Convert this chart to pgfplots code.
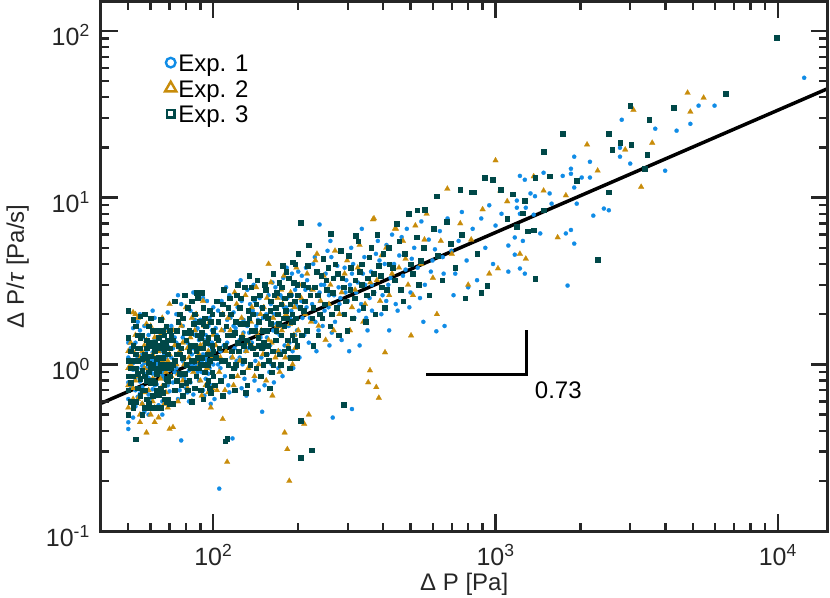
\documentclass[border=0pt]{standalone}
\usepackage{pgfplots}
\pgfplotsset{compat=1.18}
\usepackage{fontspec}
\setmainfont{Liberation Sans}
\definecolor{cA}{RGB}{16,140,230}
\definecolor{cB}{RGB}{200,140,10}
\definecolor{cC}{RGB}{0,72,72}
\definecolor{axc}{RGB}{38,38,38}
\pgfplotsset{mylegimg/.style={legend image code/.code={\draw[mark repeat=2,mark phase=2,##1] plot coordinates {(0pt,0pt)(12pt,0pt)(38pt,0pt)};}}}
\begin{document}
\begin{tikzpicture}
\path (-101pt,-66pt) rectangle (729.5pt,531.5pt);
\begin{axis}[
  at={(0,0)}, anchor=south west,
  scale only axis, width=727pt, height=530pt,
  xmode=log, ymode=log,
  xmin=40, xmax=15000, ymin=0.1, ymax=150,
  xtick={100,1000,10000},
  xticklabels={10\textsuperscript{2},10\textsuperscript{3},10\textsuperscript{4}},
  ytick={0.1,1,10,100},
  yticklabels={10\textsuperscript{-1},10\textsuperscript{0},10\textsuperscript{1},10\textsuperscript{2}},
  minor xtick={50,60,70,80,90,200,300,400,500,600,700,800,900,2000,3000,4000,5000,6000,7000,8000,9000},
  minor ytick={0.2,0.3,0.4,0.5,0.6,0.7,0.8,0.9,2,3,4,5,6,7,8,9,20,30,40,50,60,70,80,90},
  tick align=inside,
  major tick length=17pt, minor tick length=8.5pt,
  tick style={line width=2.4pt, color=axc},
  axis line style={line width=2.9pt, color=axc},
  axis on top=true,
  ticklabel style={font=\fontsize{25}{30}\selectfont, color=axc, inner sep=0pt},
  xticklabel style={anchor=base, yshift=-34pt},
  yticklabel style={anchor=base east, xshift=-11pt, yshift=-15pt},
  xlabel={Δ P [Pa]},
  ylabel={Δ P/\textit{τ} [Pa/s]},
  label style={font=\fontsize{24}{29}\selectfont, color=axc, inner sep=0pt},
  xlabel style={at={(axis description cs:0.5,-0.1113)}, anchor=base},
  ylabel style={at={(axis description cs:-0.106,0.5)}, anchor=base},
  legend style={draw=none, fill=none, font=\fontsize{24}{29}\selectfont,
    at={(axis description cs:0.088,0.909)}, anchor=north west,
    inner sep=0pt, row sep=0pt,
    cells={anchor=west, text height=20pt, text depth=7pt, inner ysep=5.25pt}},
]
\addplot[only marks, mark=*, mark size=2.1pt, color=cA, mark options={line width=0.2pt}, forget plot] table[row sep=\\] {
x y\\
50 0.62\\51 0.85\\50 1.1\\52 0.48\\53 1.35\\51 0.74\\54 0.95\\55 1.6\\52 1.02\\56 0.58\\57 0.88\\53 0.70\\58 1.22\\55 0.79\\59 0.66\\56 1.45\\60 0.92\\54 1.8\\61 1.05\\57 0.52\\62 0.75\\58 1.12\\63 1.3\\59 0.83\\64 0.98\\60 0.61\\65 1.58\\61 0.71\\66 0.9\\62 1.9\\67 1.15\\63 0.55\\68 0.8\\64 1.25\\69 1.02\\65 0.68\\70 1.4\\66 0.86\\51 1.25\\52 0.93\\53 0.56\\55 1.05\\56 0.73\\57 1.7\\58 0.95\\59 1.5\\60 0.78\\61 1.18\\62 0.64\\63 1.02\\64 0.88\\65 1.2\\66 0.6\\67 0.98\\68 1.65\\69 0.75\\70 0.93\\50 0.45\\52 1.65\\54 0.64\\56 1.15\\58 0.7\\60 1.35\\62 0.99\\64 0.57\\66 1.35\\68 1.1\\70 0.69\\51 0.98\\53 0.82\\55 0.67\\57 1.02\\59 1.1\\61 0.88\\63 0.76\\65 1.0\\67 0.82\\69 1.28\\50 0.78\\50 1.35\\54 1.1\\56 0.98\\58 0.85\\60 1.08\\62 1.42\\64 1.1\\66 1.05\\68 0.95\\55 2.0\\61 2.1\\52 0.6\\59 0.5\\66 0.5\\69 2.05\\50 0.41\\
71 1.1\\72 0.78\\73 1.45\\74 0.95\\75 0.62\\76 1.25\\77 0.85\\78 1.7\\79 1.0\\80 0.72\\81 1.35\\82 0.92\\83 2.1\\84 1.15\\85 0.66\\86 1.5\\87 0.98\\88 1.2\\89 0.8\\90 1.85\\91 1.05\\92 0.7\\93 1.4\\94 1.1\\95 2.4\\96 0.88\\97 1.3\\98 0.75\\99 1.6\\100 1.0\\72 1.25\\74 2.0\\76 0.7\\78 1.05\\80 1.55\\82 0.6\\84 0.98\\86 1.85\\88 0.9\\90 1.3\\92 1.15\\94 0.82\\96 1.7\\98 1.2\\100 2.2\\73 0.9\\75 1.15\\77 2.3\\79 0.82\\81 1.0\\83 0.78\\85 1.25\\87 1.6\\89 1.4\\91 0.9\\93 0.65\\95 1.05\\97 0.95\\99 1.35\\77 0.35\\75 2.6\\85 2.7\\92 2.5\\98 0.58\\
71 1.7\\74 1.35\\78 1.45\\81 0.68\\84 1.55\\88 1.65\\91 1.25\\94 1.5\\97 1.9\\
103 1.5\\105 0.18\\106 1.2\\108 2.0\\110 0.85\\112 1.35\\114 2.6\\117 0.36\\116 1.1\\118 1.7\\120 0.95\\122 2.2\\124 1.4\\126 0.72\\128 1.85\\130 1.2\\132 2.8\\134 1.55\\136 1.0\\138 2.1\\140 0.8\\142 1.7\\144 1.3\\146 2.5\\149 0.52\\148 1.1\\150 1.9\\153 3.0\\155 1.45\\158 0.9\\160 2.3\\163 1.6\\166 2.9\\168 1.2\\171 2.0\\174 1.0\\177 3.3\\180 1.7\\183 2.5\\186 1.35\\189 2.1\\192 0.95\\195 2.8\\198 1.6\\200 3.6\\104 1.0\\109 1.6\\113 0.75\\119 1.25\\125 3.2\\131 0.65\\137 1.35\\143 2.0\\151 1.25\\157 2.6\\164 0.78\\172 1.5\\178 2.2\\185 1.1\\194 1.85\\107 2.4\\127 1.0\\139 3.0\\161 1.0\\176 0.85\\190 3.5\\199 1.3\\115 1.9\\145 0.7\\
101 0.62\\104 2.1\\106 0.95\\109 1.3\\111 2.9\\114 0.68\\118 2.05\\121 1.05\\123 1.75\\126 2.4\\129 0.82\\133 1.25\\135 2.3\\141 1.05\\147 1.45\\152 0.75\\154 2.0\\159 1.3\\162 3.1\\167 1.75\\170 0.95\\173 2.6\\179 1.3\\182 3.8\\187 1.9\\191 1.2\\196 2.3\\
102 1.65\\105 1.4\\109 1.05\\112 1.85\\116 1.5\\120 1.65\\124 1.1\\128 1.55\\132 1.7\\136 1.35\\140 2.4\\144 1.85\\148 2.2\\152 1.6\\156 1.15\\160 1.9\\164 2.0\\168 1.55\\172 1.2\\176 2.5\\181 2.2\\185 1.7\\190 2.6\\195 1.5\\200 2.2\\
205 2.4\\210 1.5\\215 3.2\\220 1.9\\226 4.0\\232 1.2\\238 2.7\\244 1.7\\250 3.5\\256 2.2\\265 0.48\\262 4.4\\270 1.8\\278 2.9\\285 1.4\\292 3.8\\300 2.4\\310 0.54\\308 5.0\\316 1.9\\325 3.1\\334 2.3\\343 4.4\\352 1.6\\362 3.6\\372 2.7\\383 5.5\\394 2.0\\405 4.0\\417 3.0\\430 6.0\\443 2.3\\456 4.5\\470 3.4\\485 6.5\\500 2.7\\515 5.0\\530 3.8\\546 7.2\\562 3.0\\580 5.6\\598 4.2\\617 1.58\\635 6.3\\655 3.5\\676 7.5\\698 4.8\\212 2.8\\235 3.6\\258 1.3\\282 2.5\\305 3.0\\330 1.3\\358 2.5\\390 3.4\\420 1.6\\460 2.8\\505 4.3\\555 1.8\\610 4.9\\660 1.7\\238 6.9\\260 5.5\\336 6.5\\
202 1.1\\207 1.9\\213 3.8\\218 1.35\\224 2.3\\229 4.4\\236 1.6\\241 3.0\\248 2.1\\254 4.8\\263 1.55\\268 2.6\\275 3.9\\288 2.0\\296 3.2\\303 1.2\\313 4.0\\321 2.7\\339 3.5\\348 1.9\\365 2.1\\377 4.6\\398 2.6\\411 5.2\\425 3.3\\437 4.0\\450 2.1\\465 5.8\\480 3.7\\495 2.2\\540 2.5\\590 3.6\\650 4.4\\
206 3.4\\214 2.2\\222 2.8\\230 1.8\\239 2.4\\247 3.0\\257 2.6\\268 3.3\\280 2.3\\294 2.7\\310 3.5\\328 2.1\\345 3.0\\365 3.0\\388 4.2\\410 2.4\\
720 3.5\\740 5.5\\760 8.2\\790 4.2\\800 2.9\\830 6.5\\860 3.2\\890 7.5\\920 5.0\\950 9.0\\980 4.0\\1000 6.8\\1050 8.0\\710 2.6\\
1110 3.6\\1110 5.16\\1170 4.55\\1170 5.77\\1220 3.76\\1220 8.0\\1250 5.5\\1270 3.5\\1800 2.97\\1900 5.3\\1775 6.1\\1850 6.4\\1440 6.1\\1365 7.9\\1190 8.7\\1190 9.6\\1280 8.7\\1580 9.2\\2520 8.4\\2420 8.6\\2220 7.8\\1940 9.2\\1900 11.5\\1380 10.2\\1330 10.6\\1555 10.6\\1220 13.5\\1270 12.8\\1480 14.1\\1730 13.5\\2160 13.2\\2020 13.2\\1850 13.9\\1850 14.9\\1900 17.6\\2160 16.4\\3990 14.5\\3000 16.0\\2760 17.6\\2760 19.9\\2800 29.3\\3680 25.9\\4380 25.2\\4900 27.7\\5240 35.6\\5970 35.6\\12400 52.3\\
};
\addplot[only marks, mark=triangle*, mark size=3.3pt, color=cB, mark options={line width=0.2pt}, forget plot] table[row sep=\\] {
x y\\
50 0.55\\51 1.0\\52 0.72\\53 1.5\\54 0.85\\55 0.5\\56 1.2\\57 0.68\\58 0.39\\58 1.05\\59 0.92\\60 1.7\\61 0.6\\62 0.8\\63 1.3\\64 0.48\\65 1.0\\66 0.74\\67 1.6\\68 0.9\\69 0.55\\70 0.41\\70 1.15\\50 0.95\\51 1.35\\52 0.62\\53 0.8\\54 1.9\\55 1.1\\56 0.58\\57 0.95\\58 1.4\\59 0.7\\60 0.5\\61 1.15\\62 1.45\\63 0.65\\64 1.2\\65 0.82\\66 1.9\\67 0.58\\68 1.3\\69 0.78\\50 0.75\\52 1.2\\54 0.62\\56 0.9\\58 1.75\\60 1.0\\62 0.55\\64 0.9\\66 1.05\\68 0.68\\50 1.2\\53 2.0\\57 1.3\\61 0.82\\65 1.5\\69 1.05\\55 0.45\\62 0.45\\52 2.05\\
71 0.85\\73 1.3\\75 0.6\\77 1.7\\79 1.0\\81 0.72\\83 1.45\\85 0.9\\87 2.0\\89 1.15\\91 0.65\\93 1.35\\95 0.95\\97 1.8\\99 1.1\\72 0.42\\74 1.0\\76 1.2\\78 0.8\\80 2.2\\82 1.1\\84 0.6\\86 1.6\\88 0.95\\90 1.3\\92 2.4\\94 0.75\\96 1.2\\98 0.55\\100 1.5\\72 1.6\\78 1.35\\84 1.9\\90 0.8\\96 0.68\\75 0.88\\81 1.25\\87 1.05\\93 1.7\\99 0.72\\70 2.3\\
102 1.3\\105 0.9\\108 0.47\\108 2.0\\112 0.26\\111 1.2\\115 1.6\\118 0.75\\121 2.3\\124 1.05\\127 1.5\\130 2.6\\133 0.95\\136 1.8\\139 1.25\\142 2.9\\145 1.0\\148 1.6\\151 2.2\\154 0.8\\157 1.4\\160 3.1\\163 1.9\\166 1.1\\169 2.5\\172 0.9\\175 1.6\\179 0.39\\178 3.4\\183 0.31\\181 2.0\\186 0.2\\184 1.3\\188 2.7\\191 1.0\\194 2.2\\197 3.8\\200 1.6\\106 1.1\\119 2.7\\134 1.35\\147 2.0\\162 0.65\\176 2.3\\193 1.5\\110 0.7\\140 0.85\\170 1.2\\157 4.0\\
103 0.7\\107 1.6\\113 1.9\\117 1.1\\122 0.85\\126 1.9\\131 1.2\\137 2.2\\144 1.5\\150 1.15\\155 2.5\\161 1.35\\168 1.7\\174 2.8\\180 1.1\\187 1.75\\195 1.25\\202 3.0\\212 2.0\\225 2.8\\236 1.7\\246 3.4\\257 2.3\\267 1.6\\285 2.7\\298 4.2\\310 2.2\\325 3.8\\340 1.8\\360 3.1\\390 2.4\\410 5.0\\430 3.5\\480 4.3\\510 2.6\\560 5.6\\
205 2.5\\210 0.44\\218 0.5\\215 3.5\\222 1.8\\230 4.2\\233 4.6\\240 2.4\\250 1.4\\260 3.0\\270 4.8\\280 2.0\\292 3.5\\305 1.6\\318 2.8\\330 5.2\\345 2.3\\354 0.78\\359 0.92\\368 7.4\\371 7.5\\378 0.73\\386 0.63\\380 3.2\\395 4.5\\406 1.18\\420 2.6\\440 6.5\\444 6.5\\455 3.8\\470 5.5\\502 1.49\\490 3.0\\520 6.8\\545 4.0\\570 8.0\\600 3.3\\620 2.0\\640 5.5\\675 11.3\\700 4.6\\750 7.0\\800 3.0\\820 5.6\\900 8.5\\950 3.5\\
1000 16.7\\1020 3.76\\1040 11.0\\1100 9.5\\1220 4.6\\1280 4.3\\1365 13.4\\1480 11.0\\1660 5.77\\1775 10.3\\2110 20.8\\2300 14.5\\2880 19.4\\3080 33.6\\3280 11.6\\3590 21.3\\4790 42.5\\4900 32.7\\5460 39.7\\
};
\addplot[only marks, mark=square*, mark size=2.3pt, color=cC, mark options={line width=0.2pt}, forget plot] table[row sep=\\] {
x y\\
50 0.7\\51 0.95\\52 1.3\\53 0.6\\54 1.05\\55 0.82\\56 1.5\\57 0.7\\58 1.1\\59 0.9\\60 1.9\\61 0.65\\62 1.2\\63 0.88\\64 1.45\\65 0.72\\66 1.1\\67 0.95\\68 1.7\\69 0.8\\70 1.25\\50 1.05\\51 0.6\\52 0.85\\53 1.7\\53 0.356\\54 0.72\\55 1.25\\56 0.92\\57 2.0\\58 0.62\\59 1.35\\60 0.78\\61 1.0\\62 0.55\\63 1.6\\64 0.92\\65 1.3\\66 0.68\\67 1.5\\68 1.0\\69 0.62\\70 0.85\\50 0.85\\50 1.45\\51 1.2\\52 0.55\\53 0.95\\54 1.5\\55 0.65\\56 1.08\\57 0.85\\58 1.4\\59 0.58\\60 1.12\\61 1.6\\62 0.78\\63 1.08\\64 0.66\\65 1.85\\66 0.95\\67 0.75\\68 1.3\\69 1.15\\70 0.58\\51 0.78\\52 1.05\\54 0.88\\55 1.95\\56 0.7\\57 1.15\\58 0.8\\59 1.7\\60 0.95\\61 0.8\\62 1.35\\63 0.7\\64 1.25\\65 1.0\\66 1.6\\67 0.62\\68 0.82\\69 1.4\\70 1.0\\50 0.5\\50 2.1\\52 1.85\\54 1.25\\56 0.5\\58 1.25\\60 0.55\\62 0.95\\64 1.1\\66 1.35\\68 0.6\\70 1.6\\53 1.15\\57 0.55\\61 1.3\\65 0.55\\69 0.95\\55 1.45\\59 1.02\\63 1.3\\67 1.2\\
71 0.95\\72 1.4\\73 0.7\\74 1.15\\75 1.8\\76 0.88\\77 1.25\\78 0.65\\79 1.55\\80 1.0\\81 2.2\\82 0.8\\83 1.3\\84 1.05\\85 1.75\\86 0.72\\87 1.2\\88 2.5\\89 0.95\\90 1.45\\91 1.1\\92 0.62\\93 1.9\\94 1.0\\95 1.35\\96 0.8\\97 2.1\\98 1.15\\99 0.9\\100 1.6\\71 1.5\\72 0.58\\73 1.05\\74 0.8\\75 1.3\\76 2.0\\77 0.75\\78 1.1\\79 0.88\\80 1.4\\81 0.7\\82 1.6\\83 0.95\\84 2.4\\85 1.05\\86 1.3\\87 0.85\\88 1.1\\89 1.8\\90 0.7\\91 1.55\\92 1.25\\93 0.9\\94 1.7\\95 0.75\\96 1.45\\97 1.05\\98 0.68\\99 1.3\\100 0.85\\72 1.0\\74 1.6\\76 1.15\\78 1.9\\80 0.78\\82 1.2\\84 0.6\\86 2.0\\88 1.5\\90 1.0\\92 2.2\\94 1.35\\96 1.0\\98 1.8\\100 1.2\\73 2.4\\79 2.6\\87 2.7\\91 2.7\\
83 1.55\\86 0.95\\89 1.25\\92 1.75\\95 1.15\\97 0.72\\99 2.0\\
102 1.1\\104 1.8\\106 0.8\\108 2.3\\110 0.346\\110 1.3\\112 0.36\\113 1.0\\115 2.0\\117 1.5\\119 0.7\\121 2.6\\123 1.2\\125 1.75\\127 0.9\\129 2.9\\131 1.4\\133 2.1\\135 1.0\\137 1.6\\139 2.5\\141 1.15\\143 3.2\\145 1.8\\147 0.85\\149 2.2\\151 1.35\\153 2.8\\155 1.6\\157 1.05\\160 2.4\\163 3.5\\166 1.4\\169 2.0\\172 1.15\\175 2.9\\178 1.7\\181 3.6\\184 1.25\\187 2.3\\190 1.5\\193 3.1\\196 1.9\\199 2.6\\103 1.45\\107 1.05\\111 1.7\\116 1.2\\120 1.0\\126 1.45\\132 0.75\\138 1.25\\144 1.45\\150 1.0\\156 1.9\\162 1.2\\168 2.7\\174 1.5\\180 2.1\\186 0.95\\192 1.8\\198 1.3\\109 2.8\\122 3.0\\134 3.4\\158 0.72\\176 3.9\\188 1.1\\195 4.0\\191 4.1\\200 4.6\\
101 0.75\\103 2.4\\105 1.25\\108 0.65\\112 1.5\\114 2.5\\118 0.95\\120 1.8\\124 2.2\\128 1.3\\130 0.68\\134 1.9\\136 2.9\\140 1.6\\142 0.95\\146 2.6\\148 1.25\\152 3.0\\154 1.15\\159 2.1\\161 0.9\\164 2.6\\167 1.6\\171 3.1\\173 1.0\\177 1.9\\179 2.5\\183 1.4\\185 3.3\\189 1.8\\194 2.4\\197 1.1\\
104 1.4\\107 2.0\\110 1.05\\113 2.2\\116 0.85\\119 1.55\\122 1.35\\125 2.5\\128 1.05\\131 1.75\\135 1.3\\138 2.0\\142 2.3\\145 1.3\\149 1.6\\153 1.95\\156 1.3\\160 1.75\\163 1.0\\166 2.2\\170 1.75\\174 2.3\\178 1.2\\182 1.9\\186 2.6\\190 2.0\\194 1.4\\198 3.0\\
206 1.5\\211 2.4\\216 3.9\\224 1.9\\229 2.9\\235 1.5\\241 3.4\\248 2.3\\255 3.8\\262 2.0\\270 4.0\\278 1.5\\286 3.3\\294 2.4\\302 4.5\\312 1.9\\330 3.6\\340 2.2\\352 3.3\\362 5.0\\375 2.0\\386 3.9\\400 4.6\\412 2.8\\440 3.2\\455 5.5\\470 2.4\\500 4.0\\535 3.0\\555 5.0\\
209 2.1\\217 2.9\\226 2.2\\234 2.6\\243 1.9\\251 3.2\\265 2.7\\276 3.5\\291 2.0\\305 2.8\\318 3.2\\335 4.0\\350 2.6\\370 3.5\\395 2.9\\420 4.0\\
204 0.277\\204 0.46\\223 0.306\\290 0.576\\203 2.2\\204 7.1\\208 3.0\\214 1.6\\218 5.2\\220 2.6\\226 1.3\\232 3.6\\238 2.0\\245 4.3\\252 2.8\\259 1.7\\260 6.1\\266 3.3\\274 2.2\\282 4.8\\290 2.9\\298 1.6\\307 3.8\\316 2.5\\320 5.9\\326 5.5\\336 3.0\\346 1.8\\357 4.4\\368 2.7\\380 6.0\\392 3.4\\405 2.2\\418 5.0\\432 3.8\\446 7.0\\460 2.8\\476 4.6\\492 8.0\\508 3.5\\525 5.8\\527 8.4\\543 4.2\\562 8.5\\582 2.6\\602 6.5\\617 10.2\\624 4.5\\646 3.2\\670 7.2\\694 5.3\\720 3.8\\750 11.2\\760 6.0\\780 2.5\\820 10.8\\835 10.8\\860 4.6\\890 2.7\\913 13.2\\935 2.97\\975 12.8\\1040 11.2\\
1100 7.5\\1150 10.5\\1190 6.7\\1250 8.1\\1270 9.6\\1300 6.3\\1365 6.4\\1380 3.27\\1380 13.2\\1480 8.4\\1480 18.9\\1555 13.5\\1730 24.2\\1940 12.6\\2300 4.25\\2520 10.8\\2520 24.2\\2590 19.4\\2760 21.3\\3000 35.6\\3020 20.8\\3370 14.9\\3440 18.1\\3500 29.3\\4270 34.6\\6530 42.0\\9900 90.8\\
};
\addplot[black, line width=3.5pt, forget plot] coordinates {(40,0.584) (15000,45)};
\addplot[black, line width=2.8pt, forget plot] coordinates {(568,0.871) (1288,0.871) (1288,1.598)};
\node[anchor=west, inner sep=0pt, font=\fontsize{24}{29}\selectfont] at (axis cs:1377,0.699) {0.73};
\addlegendimage{only marks, mark=o, mark size=4.8pt, color=cA, mark options={line width=2.4pt}, mylegimg}
\addlegendentry{Exp. 1}
\addlegendimage{only marks, mark=triangle, mark size=6.5pt, color=cB, mark options={line width=2.4pt}, mylegimg}
\addlegendentry{Exp. 2}
\addlegendimage{only marks, mark=square, mark size=3.8pt, color=cC, mark options={line width=2.4pt}, mylegimg}
\addlegendentry{Exp. 3}
\end{axis}
\end{tikzpicture}
\end{document}
